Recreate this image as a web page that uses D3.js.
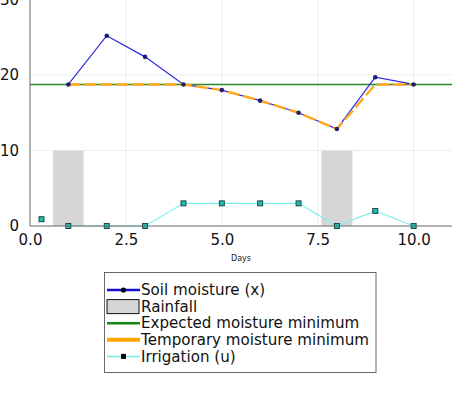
<!DOCTYPE html>
<html>
<head>
<meta charset="utf-8">
<script src="https://cdn.jsdelivr.net/npm/d3@7"></script>
<style>
  body { margin: 0; background: #fff; }
  text { font-family: "DejaVu Sans", sans-serif; }
</style>
</head>
<body>
<div class="board"></div>
<script>
var days = [1, 2, 3, 4, 5, 6, 7, 8, 9, 10];
var soilMoisture = [18.75, 25.2, 22.4, 18.75, 18.0, 16.6, 15.0, 12.85, 19.7, 18.75];
var tempMinimum = [18.75, 18.75, 18.75, 18.75, 18.0, 16.6, 15.0, 12.85, 18.75, 18.75];
var expectedMinimum = 18.75;
var rainDays = [1, 8];
var rainAmount = [10, 10];
var irrigationDays = [1, 2, 3, 4, 5, 6, 7, 8, 9, 10];
var irrigation = [0, 0, 0, 3, 3, 3, 3, 0, 2, 0];
var strayPoint = [{x: 0.3, y: 0.9}];
var xTicks = [0, 2.5, 5, 7.5, 10];
var yTicks = [0, 10, 20, 30];
var legendLabels = ['Soil moisture (x)', 'Rainfall', 'Expected moisture minimum', 'Temporary moisture minimum', 'Irrigation (u)'];

var width = 470, height = 400;

var svg = d3.select('.board').append('svg')
  .attr('width', width)
  .attr('height', height);

var x = d3.scaleLinear().domain([0, 11]).range([30, 452]);
var y = d3.scaleLinear().domain([0, 30]).range([226, -0.5]);

// grid
svg.append('g').selectAll('line').data(xTicks.slice(1)).enter().append('line')
  .attr('x1', function(d) { return x(d); }).attr('x2', function(d) { return x(d); })
  .attr('y1', y(30)).attr('y2', y(0))
  .attr('stroke', '#000').attr('stroke-opacity', 0.07);
svg.append('g').selectAll('line').data(yTicks.slice(1)).enter().append('line')
  .attr('x1', x(0)).attr('x2', x(11))
  .attr('y1', function(d) { return y(d); }).attr('y2', function(d) { return y(d); })
  .attr('stroke', '#000').attr('stroke-opacity', 0.07);

// rainfall bars
var rain = rainDays.map(function(d, i) { return {x: d, v: rainAmount[i]}; });
svg.append('g').selectAll('rect').data(rain).enter().append('rect')
  .attr('x', function(d) { return x(d.x - 0.4); })
  .attr('width', function(d) { return x(d.x + 0.4) - x(d.x - 0.4); })
  .attr('y', function(d) { return y(d.v); })
  .attr('height', function(d) { return y(0) - y(d.v); })
  .attr('fill', '#d6d6d6')
  .attr('stroke', '#e8e8e8').attr('stroke-width', 0.5);

var line = d3.line()
  .x(function(d) { return x(d[0]); })
  .y(function(d) { return y(d[1]); });

// expected minimum
svg.append('line')
  .attr('x1', x(0)).attr('x2', x(11))
  .attr('y1', y(expectedMinimum)).attr('y2', y(expectedMinimum))
  .attr('stroke', '#2a8a2a').attr('stroke-width', 1.5);

// soil moisture
var soil = days.map(function(d, i) { return [d, soilMoisture[i]]; });
svg.append('path').datum(soil)
  .attr('d', line)
  .attr('fill', 'none')
  .attr('stroke', '#2b2bdc').attr('stroke-width', 1.2);

// temporary minimum
var temp = days.map(function(d, i) { return [d, tempMinimum[i]]; });
svg.append('path').datum(temp)
  .attr('d', line)
  .attr('fill', 'none')
  .attr('stroke', '#ffa719').attr('stroke-width', 2.4)
  .attr('stroke-dasharray', '12,4');

svg.append('g').selectAll('circle').data(soil).enter().append('circle')
  .attr('cx', function(d) { return x(d[0]); })
  .attr('cy', function(d) { return y(d[1]); })
  .attr('r', 2.3)
  .attr('fill', '#0d0d6e')
  .attr('fill-opacity', 0.9);

// irrigation
var irr = irrigationDays.map(function(d, i) { return [d, irrigation[i]]; });
svg.append('path').datum(irr)
  .attr('d', line)
  .attr('fill', 'none')
  .attr('stroke', '#7ff0f0').attr('stroke-width', 1.2);
var irrPoints = irr.concat(strayPoint.map(function(p) { return [p.x, p.y]; }));
svg.append('g').selectAll('rect').data(irrPoints).enter().append('rect')
  .attr('x', function(d) { return x(d[0]) - 2.5; })
  .attr('y', function(d) { return y(d[1]) - 2.5; })
  .attr('width', 5).attr('height', 5)
  .attr('fill', '#1fbfb0')
  .attr('stroke', '#123c3c').attr('stroke-width', 0.9);

// axes
var xAxis = d3.axisBottom(x).tickValues(xTicks).tickFormat(d3.format('.1f')).tickSize(0).tickPadding(8);
var yAxis = d3.axisLeft(y).tickValues(yTicks).tickSize(0).tickPadding(11);

var gx = svg.append('g').attr('transform', 'translate(0,' + y(0) + ')').call(xAxis);
gx.select('.domain').attr('stroke', '#666').attr('d', 'M' + x(0) + ',0H' + x(11));
gx.selectAll('text').attr('font-size', 15).attr('fill', '#111').attr('font-family', 'DejaVu Sans');

var gy = svg.append('g').attr('transform', 'translate(' + x(0) + ',0)').call(yAxis);
gy.select('.domain').attr('stroke', '#666').attr('d', 'M0,' + y(0) + 'V' + y(30));
gy.selectAll('text').attr('font-size', 15).attr('fill', '#111').attr('font-family', 'DejaVu Sans');

svg.append('text')
  .attr('x', x(5.5)).attr('y', 261)
  .attr('text-anchor', 'middle')
  .attr('font-size', 8).attr('fill', '#222')
  .text('Days');

// legend
var legend = svg.append('g');
legend.append('rect')
  .attr('x', 104.5).attr('y', 272.5).attr('width', 271.5).attr('height', 100)
  .attr('fill', '#fff').attr('stroke', '#444').attr('stroke-width', 0.8);

var rowY = function(i) { return 290 + i * 16.6; };
var items = legend.selectAll('g.item').data(legendLabels).enter().append('g')
  .attr('class', 'item')
  .attr('transform', function(d, i) { return 'translate(0,' + rowY(i) + ')'; });

items.append('text')
  .attr('x', 141).attr('y', 0).attr('dy', '0.35em')
  .attr('font-size', 15.1).attr('fill', '#111')
  .text(function(d) { return d; });

var sym = [
  function(g) {
    g.append('line').attr('x1', 107).attr('x2', 140).attr('stroke', '#1010d0').attr('stroke-width', 2.5);
    g.append('circle').attr('cx', 123.5).attr('r', 2.6).attr('fill', '#000');
  },
  function(g) {
    g.append('rect').attr('x', 107).attr('y', -7).attr('width', 32).attr('height', 14)
      .attr('fill', '#d6d6d6').attr('stroke', '#111').attr('stroke-width', 1);
  },
  function(g) {
    g.append('line').attr('x1', 107).attr('x2', 140).attr('stroke', '#118811').attr('stroke-width', 2.5);
  },
  function(g) {
    g.append('line').attr('x1', 107).attr('x2', 140).attr('stroke', '#ffa500').attr('stroke-width', 4);
  },
  function(g) {
    g.append('line').attr('x1', 107).attr('x2', 140).attr('stroke', '#6fefef').attr('stroke-width', 1.5);
    g.append('rect').attr('x', 121).attr('y', -2.5).attr('width', 5).attr('height', 5).attr('fill', '#000');
  }
];
items.each(function(d, i) { sym[i](d3.select(this)); });
</script>
</body>
</html>
